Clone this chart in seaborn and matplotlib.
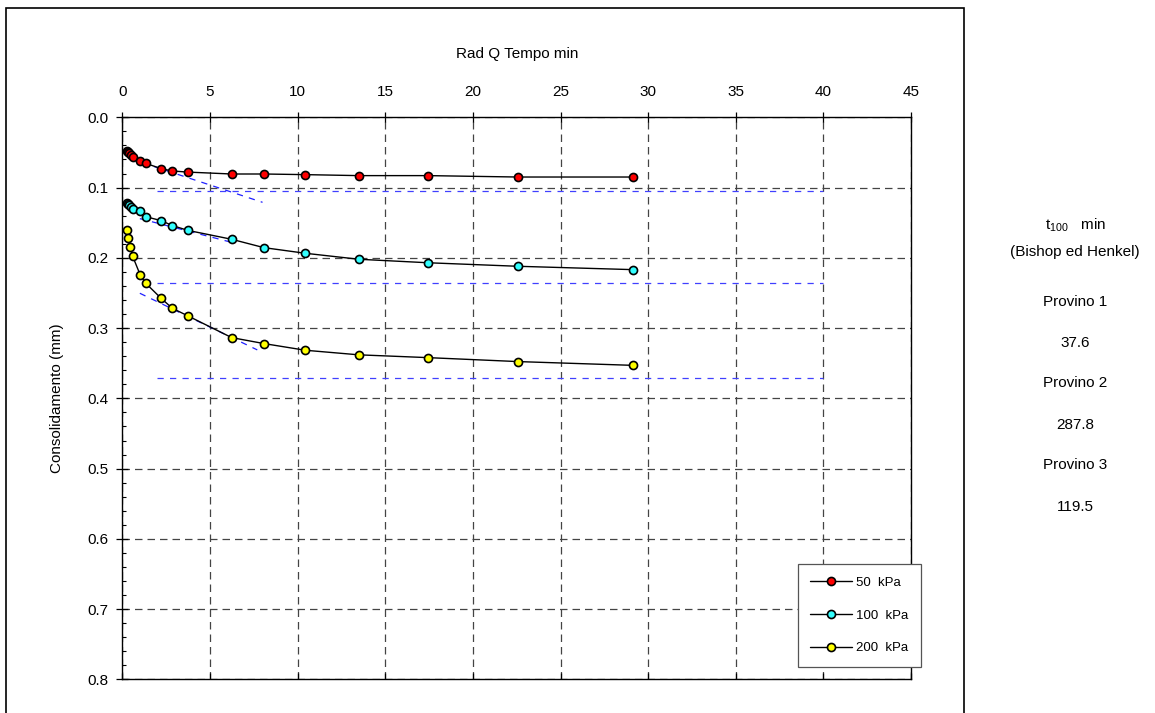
import numpy as np
import pandas as pd
import seaborn as sns
import matplotlib.lines as mlines
from matplotlib import pyplot as plt
from matplotlib.patches import Rectangle
from matplotlib.ticker import MultipleLocator

sns.set_theme(style='white')
plt.rcParams['font.family'] = ['Liberation Sans', 'DejaVu Sans']
plt.rcParams.update({'text.color': 'black', 'axes.labelcolor': 'black',
                     'xtick.color': 'black', 'ytick.color': 'black'})

# Rad Q tempo (sqrt min) and consolidamento (mm)
x_50 = [0.25, 0.33, 0.40, 0.48, 0.59, 0.99, 1.33, 2.21, 2.85, 3.75, 6.24, 8.08, 10.44, 13.48, 17.44, 22.55, 29.15]
y_50 = [0.048, 0.0494, 0.051, 0.053, 0.056, 0.0626, 0.0655, 0.073, 0.0764, 0.078, 0.0807, 0.0807, 0.0816, 0.083, 0.083, 0.085, 0.085]

x_100 = [0.25, 0.33, 0.40, 0.48, 0.59, 1.03, 1.33, 2.21, 2.85, 3.75, 6.24, 8.08, 10.44, 13.48, 17.44, 22.55, 29.15]
y_100 = [0.1223, 0.1238, 0.1252, 0.127, 0.130, 0.133, 0.1414, 0.147, 0.154, 0.161, 0.1736, 0.1855, 0.1935, 0.202, 0.207, 0.212, 0.2168]

x_200 = [0.25, 0.34, 0.46, 0.59, 1.03, 1.33, 2.21, 2.85, 3.75, 6.24, 8.08, 10.44, 13.48, 17.44, 22.55, 29.15]
y_200 = [0.160, 0.172, 0.185, 0.1978, 0.2248, 0.236, 0.2575, 0.2717, 0.2827, 0.3135, 0.322, 0.3315, 0.338, 0.342, 0.3476, 0.353]

labels = ['50  kPa', '100  kPa', '200  kPa']
colors = ['#ff0000', '#33ffff', '#ffff00']

# Bishop & Henkel construction lines
t100_x = [2.0, 40.0]
t100_y = [0.105, 0.236, 0.3704]
tan_x = [[1.8, 8.0], [1.0, 6.2], [1.0, 7.7]]
tan_y = [[0.070, 0.121], [0.1442, 0.1777], [0.2504, 0.331]]

side_text = ['Provino 1', '37.6', 'Provino 2', '287.8', 'Provino 3', '119.5']

fig = plt.figure(figsize=(11.55, 7.13), dpi=100)
ax = fig.add_axes([0.1059, 0.047, 0.6829, 0.7885])

# outer frame
fig.patches.append(Rectangle((0.0052, -0.1), 0.8294, 1.0888, transform=fig.transFigure,
                             fill=False, edgecolor='black', lw=1.2))

ax.set_xlim(0, 45)
ax.set_ylim(0.8, 0.0)
ax.xaxis.set_major_locator(MultipleLocator(5))
ax.yaxis.set_major_locator(MultipleLocator(0.1))
ax.yaxis.set_minor_locator(MultipleLocator(0.02))
ax.yaxis.set_major_formatter(plt.FormatStrFormatter('%.1f'))

ax.grid(True, which='major', color='#444444', lw=0.9, linestyle=(0, (6, 4)))
ax.set_axisbelow(True)

for y in t100_y:
    ax.plot(t100_x, [y, y], color='#4040ff', lw=0.9, linestyle=(0, (5, 5)), zorder=2)
for tx, ty in zip(tan_x, tan_y):
    ax.plot(tx, ty, color='#2020ff', lw=0.9, linestyle=(0, (5, 5)), zorder=2)

series = [(x_50, y_50), (x_100, y_100), (x_200, y_200)]
for (xs, ys), lab, c in zip(series, labels, colors):
    sns.lineplot(x=xs, y=ys, ax=ax, color='black', lw=1, marker='o', markersize=5.8,
                 markerfacecolor=c, markeredgecolor='black', markeredgewidth=1.2,
                 label=lab, zorder=3, estimator=None)

leg = ax.legend(loc='lower right', bbox_to_anchor=(1.0127, 0.0222), borderaxespad=0,
                fontsize=9.5, frameon=True, fancybox=False, edgecolor='#555555',
                framealpha=1, handlelength=3.2, labelspacing=1.55, borderpad=0.95,
                handletextpad=0.3)
leg.set_zorder(10)
leg.get_frame().set_linewidth(0.9)

for s in ax.spines.values():
    s.set_color('black')
    s.set_linewidth(1)

ax.xaxis.tick_top()
ax.xaxis.set_label_position('top')
ax.tick_params(axis='x', which='major', direction='inout', length=7, width=0.9,
               color='black', labelsize=11, pad=10, top=True, bottom=True,
               labeltop=True, labelbottom=False)
ax.tick_params(axis='y', which='major', direction='inout', length=8.5, width=0.9,
               color='black', labelsize=11, pad=6, left=True)
ax.tick_params(axis='y', which='minor', direction='in', length=3, width=0.8,
               color='black', left=True)

# bottom ticks only point inward
for t in ax.xaxis.get_major_ticks():
    t.tick1line.set_marker(mlines.TICKUP)
    t.tick1line.set_markersize(4.5)

ax.set_xlabel('Rad Q Tempo min', fontsize=11)
ax.set_ylabel('Consolidamento (mm)', fontsize=11)
ax.xaxis.set_label_coords(0.5, 1.105)
ax.yaxis.set_label_coords(-0.074, 0.5)

# t100 results on the right
fig.text(0.931, 0.684, r'$\mathregular{t_{100}}$   min', ha='center', va='center', fontsize=11)
fig.text(0.931, 0.646, '(Bishop ed Henkel)', ha='center', va='center', fontsize=11)
ys_txt = [0.576, 0.519, 0.463, 0.404, 0.348, 0.289]
for t, yy in zip(side_text, ys_txt):
    fig.text(0.931, yy, t, ha='center', va='center', fontsize=11)

fig.savefig('out.png', dpi=100, facecolor='white')
